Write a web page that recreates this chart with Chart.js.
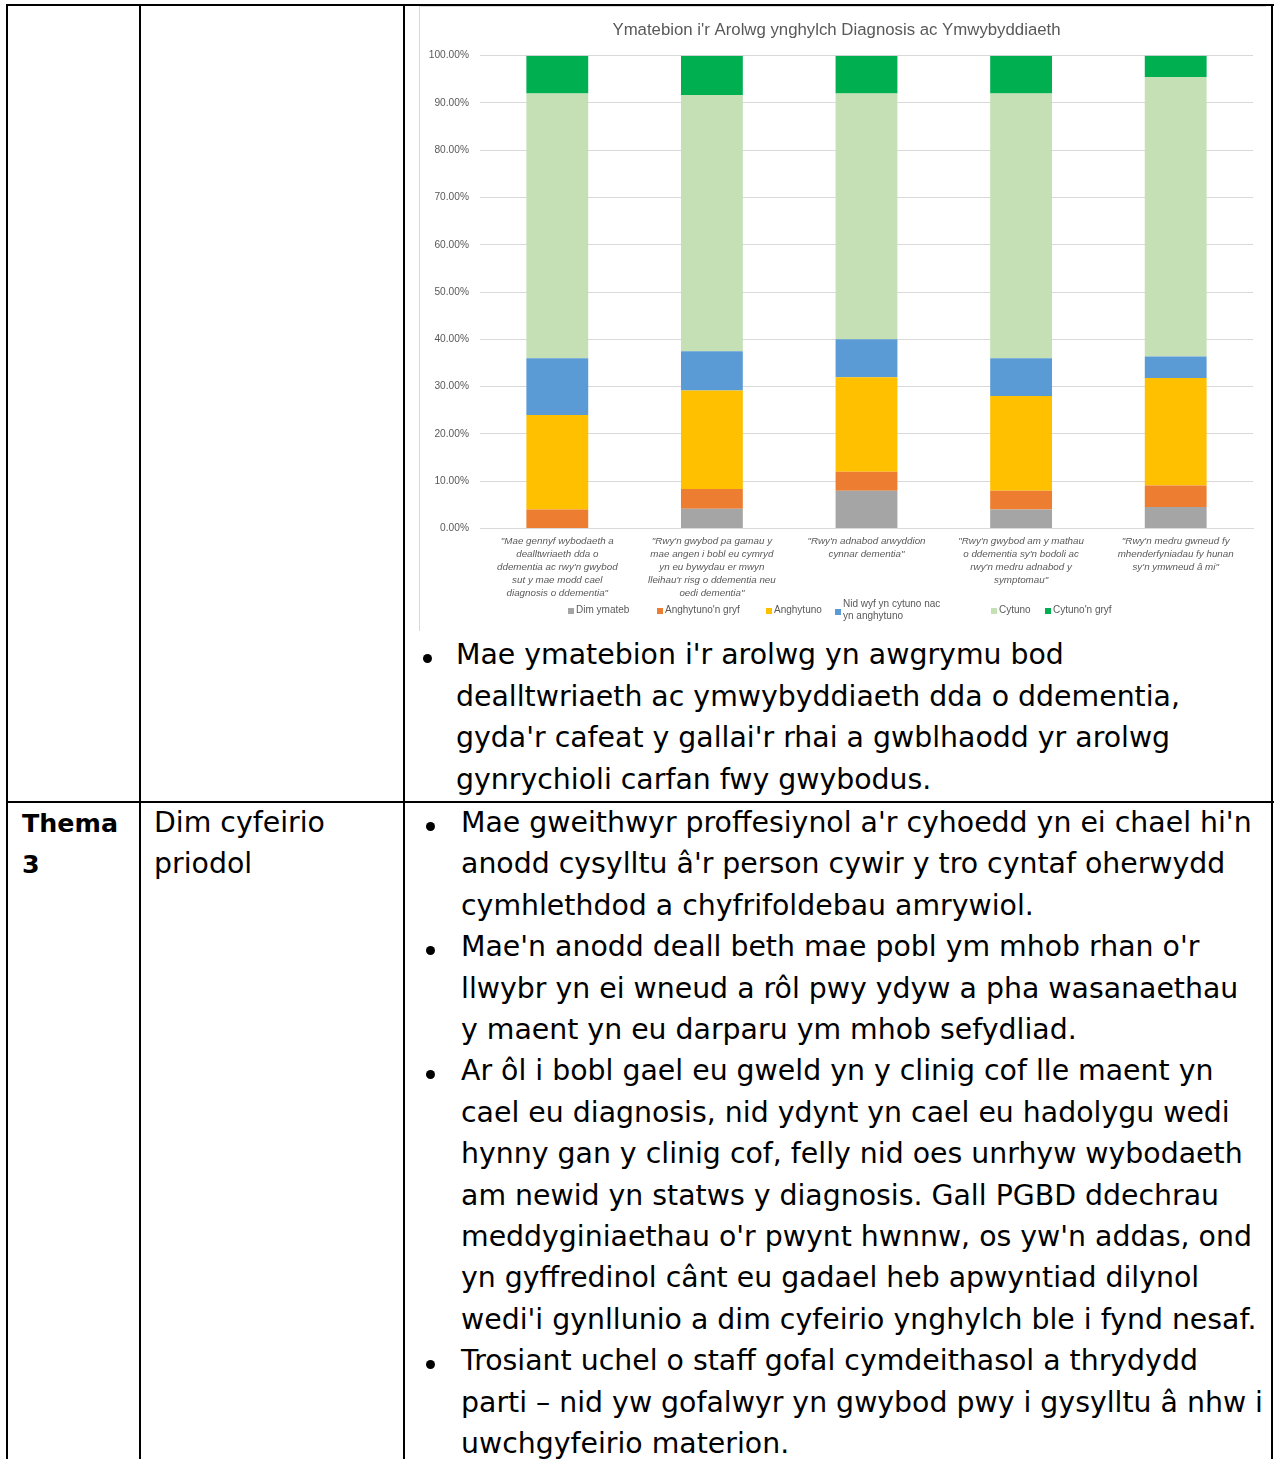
<!DOCTYPE html>
<html>
<head>
<meta charset="utf-8">
<script src="https://cdn.jsdelivr.net/npm/chart.js@4.4.1/dist/chart.umd.min.js"></script>
<style>
  html, body { margin: 0; padding: 0; background: #fff; }
  body { width: 1274px; height: 1459px; position: relative; overflow: hidden; }
  .rule { position: absolute; background: #000; }
  .line { position: absolute; white-space: nowrap; color: #000; font-family: "DejaVu Sans", sans-serif; }
  .dot { position: absolute; width: 9px; height: 9px; border-radius: 50%; background: #000; }
  #chartBox { position: absolute; left: 419px; top: 6px; width: 846px; height: 624px;
              border-left: 1px solid #d9d9d9; border-top: 1px solid #d9d9d9; }
  #chartBox canvas { position: absolute; left: 0; top: 0; }
  .lg { position: absolute; font: 10px "Liberation Sans", Arial, sans-serif; color: #595959; line-height: 12px; white-space: nowrap; }
  .lg i { position: absolute; width: 6px; height: 6px; }
</style>
</head>
<body>
<div class="rule" style="left:6px;top:4px;width:1268px;height:2px"></div>
<div class="rule" style="left:6px;top:801px;width:1268px;height:2px"></div>
<div class="rule" style="left:6px;top:4px;width:2px;height:1455px"></div>
<div class="rule" style="left:139px;top:4px;width:2px;height:1455px"></div>
<div class="rule" style="left:403px;top:4px;width:2px;height:1455px"></div>
<div class="rule" style="left:1271px;top:4px;width:2px;height:1455px"></div>

<div id="chartBox"><canvas id="chart" width="846" height="624"></canvas></div>
<div id="legend"></div>
<div id="text"></div>

<script>
// ---- Data -----------------------------------------------------------------
const categories = [
  ['"Mae gennyf wybodaeth a', 'dealltwriaeth dda o', "ddementia ac rwy'n gwybod", 'sut y mae modd cael', 'diagnosis o ddementia"'],
  ['"Rwy\'n gwybod pa gamau y', 'mae angen i bobl eu cymryd', 'yn eu bywydau er mwyn', "lleihau'r risg o ddementia neu", 'oedi dementia"'],
  ['"Rwy\'n adnabod arwyddion', 'cynnar dementia"'],
  ['"Rwy\'n gwybod am y mathau', "o ddementia sy'n bodoli ac", "rwy'n medru adnabod y", 'symptomau"'],
  ['"Rwy\'n medru gwneud fy', 'mhenderfyniadau fy hunan', 'sy\'n ymwneud â mi"']
];

const dimYmateb      = [0,  4.17, 8,  4,  4.55];
const anghytunoGryf  = [4,  4.17, 4,  4,  4.55];
const anghytuno      = [20, 20.83, 20, 20, 22.73];
const niwtral        = [12, 8.33, 8,  8,  4.55];
const cytuno         = [56, 54.17, 52, 56, 59.09];
const cytunoGryf     = [8,  8.33, 8,  8,  4.55];

const seriesNames  = ['Dim ymateb', "Anghytuno'n gryf", 'Anghytuno', 'Nid wyf yn cytuno nac yn anghytuno', 'Cytuno', "Cytuno'n gryf"];
const seriesValues = [dimYmateb, anghytunoGryf, anghytuno, niwtral, cytuno, cytunoGryf];
const seriesColors = ['#a5a5a5', '#ed7d31', '#ffc000', '#5b9bd5', '#c5e0b4', '#00b050'];

const yTicks = [0, 10, 20, 30, 40, 50, 60, 70, 80, 90, 100];
const chartTitle = "Ymatebion i'r Arolwg ynghylch Diagnosis ac Ymwybyddiaeth";

const row1Lines = [
  [true,  'Mae ymatebion i\'r arolwg yn awgrymu bod'],
  [false, 'dealltwriaeth ac ymwybyddiaeth dda o ddementia,'],
  [false, "gyda'r cafeat y gallai'r rhai a gwblhaodd yr arolwg"],
  [false, 'gynrychioli carfan fwy gwybodus.']
];
const row2Lines = [
  [true,  "Mae gweithwyr proffesiynol a'r cyhoedd yn ei chael hi'n"],
  [false, "anodd cysylltu â'r person cywir y tro cyntaf oherwydd"],
  [false, 'cymhlethdod a chyfrifoldebau amrywiol.'],
  [true,  "Mae'n anodd deall beth mae pobl ym mhob rhan o'r"],
  [false, 'llwybr yn ei wneud a rôl pwy ydyw a pha wasanaethau'],
  [false, 'y maent yn eu darparu ym mhob sefydliad.'],
  [true,  'Ar ôl i bobl gael eu gweld yn y clinig cof lle maent yn'],
  [false, 'cael eu diagnosis, nid ydynt yn cael eu hadolygu wedi'],
  [false, 'hynny gan y clinig cof, felly nid oes unrhyw wybodaeth'],
  [false, 'am newid yn statws y diagnosis. Gall PGBD ddechrau'],
  [false, "meddyginiaethau o'r pwynt hwnnw, os yw'n addas, ond"],
  [false, 'yn gyffredinol cânt eu gadael heb apwyntiad dilynol'],
  [false, "wedi'i gynllunio a dim cyfeirio ynghylch ble i fynd nesaf."],
  [true,  'Trosiant uchel o staff gofal cymdeithasol a thrydydd'],
  [false, 'parti – nid yw gofalwyr yn gwybod pwy i gysylltu â nhw i'],
  [false, 'uwchgyfeirio materion.']
];

// ---- Body text ------------------------------------------------------------
(function () {
  const ctx = document.createElement('canvas').getContext('2d');
  ctx.font = '100px "DejaVu Sans"';
  const fs = 100 * 791 / ctx.measureText(row2Lines[0][1]).width;
  ctx.font = 'bold 100px "DejaVu Sans"';
  const fsBold = Math.min(fs, 100 * 96 / ctx.measureText('Thema').width);
  const lh = 41.4;
  const host = document.getElementById('text');

  function put(txt, x, baseline, bold) {
    const size = bold ? fsBold : fs;
    const d = document.createElement('div');
    d.className = 'line';
    d.style.left = x + 'px';
    d.style.top = (baseline - ((lh - 1.164 * size) / 2 + 0.928 * size)) + 'px';
    d.style.fontSize = size + 'px';
    d.style.lineHeight = lh + 'px';
    if (bold) d.style.fontWeight = 'bold';
    d.textContent = txt;
    host.appendChild(d);
  }
  function dot(cx, baseline) {
    const d = document.createElement('div');
    d.className = 'dot';
    d.style.left = (cx - 4.5) + 'px';
    d.style.top = (baseline - 11) + 'px';
    host.appendChild(d);
  }

  row1Lines.forEach(function (l, i) {
    const b = 665 + i * lh;
    if (l[0]) dot(427, b);
    put(l[1], 456, b);
  });
  row2Lines.forEach(function (l, i) {
    const b = 832.5 + i * lh;
    if (l[0]) dot(430, b);
    put(l[1], 461, b);
  });
  put('Thema', 22, 832.5, true);
  put('3', 22, 832.5 + lh, true);
  put('Dim cyfeirio', 154, 832.5);
  put('priodol', 154, 832.5 + lh);
})();

// ---- Legend ---------------------------------------------------------------
(function () {
  const lgX = [568, 657, 766, 835, 991, 1045];
  const host = document.getElementById('legend');
  seriesNames.forEach(function (name, i) {
    const d = document.createElement('div');
    d.className = 'lg';
    const wrap = i === 3;
    d.style.left = (lgX[i] + 8) + 'px';
    d.style.top = (wrap ? 598 : 604) + 'px';
    d.innerHTML = wrap ? 'Nid wyf yn cytuno nac<br>yn anghytuno' : name;
    const sw = document.createElement('i');
    sw.style.background = seriesColors[i];
    sw.style.left = '-8px';
    sw.style.top = (wrap ? 11 : 4) + 'px';
    d.appendChild(sw);
    host.appendChild(d);
  });
})();

// ---- Chart ----------------------------------------------------------------
const fontFamily = '"Liberation Sans", Arial, sans-serif';

new Chart(document.getElementById('chart'), {
  type: 'bar',
  data: {
    labels: categories,
    datasets: seriesValues.map(function (vals, i) {
      return {
        label: seriesNames[i],
        data: vals,
        backgroundColor: seriesColors[i],
        borderWidth: 0,
        barPercentage: 0.4,
        categoryPercentage: 1
      };
    })
  },
  options: {
    responsive: false,
    animation: false,
    layout: { padding: { left: 0, right: 13, top: 0, bottom: 0 } },
    plugins: {
      legend: { display: false },
      tooltip: { enabled: false },
      title: {
        display: true,
        text: chartTitle,
        color: '#595959',
        font: { family: fontFamily, size: 16.8, weight: 'normal', lineHeight: 1.2 },
        padding: { top: 13.5, bottom: 15 }
      }
    },
    scales: {
      x: {
        stacked: true,
        grid: { display: false, drawTicks: false },
        border: { display: true, color: '#d9d9d9' },
        ticks: {
          color: '#595959',
          font: { family: fontFamily, size: 9.8, style: 'italic', lineHeight: 1.34 },
          padding: 6,
          maxRotation: 0,
          autoSkip: false
        },
        afterFit: function (s) { s.height = 102.5; }
      },
      y: {
        stacked: true,
        min: 0,
        max: 100,
        afterBuildTicks: function (s) { s.ticks = yTicks.map(function (v) { return { value: v }; }); },
        grid: { color: '#d9d9d9', drawTicks: false },
        border: { display: false },
        ticks: {
          color: '#595959',
          font: { family: fontFamily, size: 10.2 },
          padding: 11,
          callback: function (v) { return v.toFixed(2) + '%'; }
        },
        afterFit: function (s) { s.width = 60; }
      }
    }
  }
});
</script>
</body>
</html>
